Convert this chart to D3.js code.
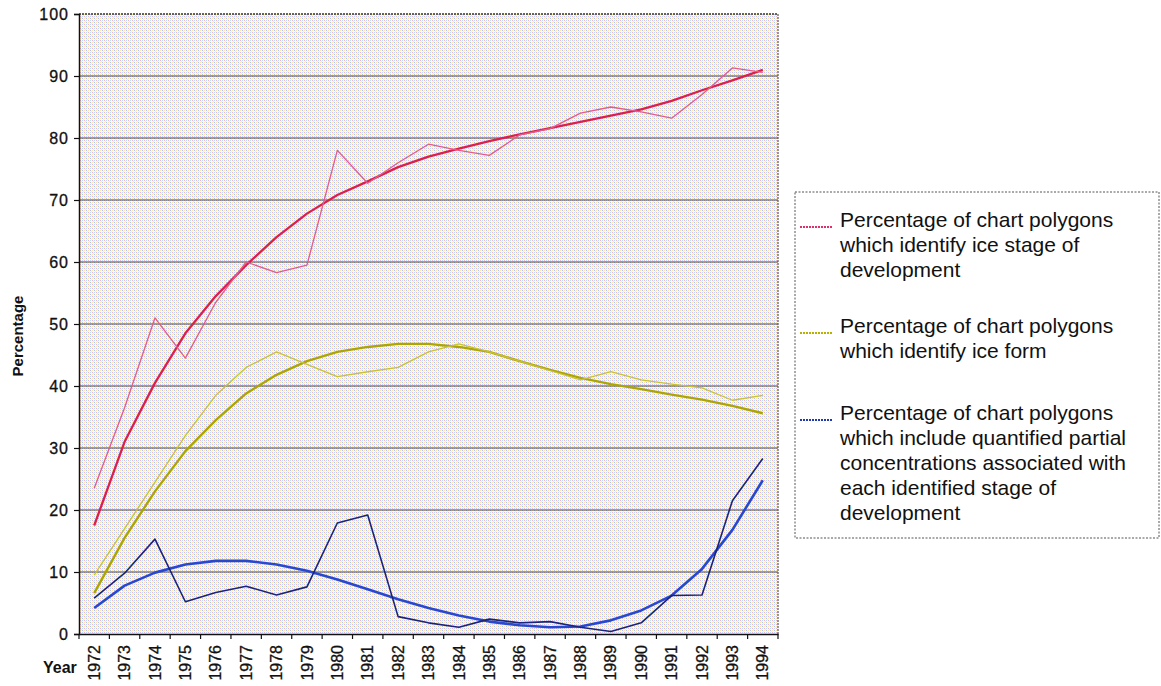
<!DOCTYPE html>
<html><head><meta charset="utf-8">
<script src="https://cdn.jsdelivr.net/npm/d3@7"></script>
<style>body{margin:0;background:#fff;} svg{display:block;font-family:"Liberation Sans",Arial,sans-serif;}</style>
</head><body><svg id="c" width="1161" height="686"></svg>
<script>
const years = ["1972","1973","1974","1975","1976","1977","1978","1979","1980","1981","1982","1983","1984","1985","1986","1987","1988","1989","1990","1991","1992","1993","1994"];
const yTicks = [0,10,20,30,40,50,60,70,80,90,100];
const stageRaw   = [23.5,36.5,51,44.5,53.5,60,58.3,59.5,78,72.7,76,79,78,77.2,80.5,81.5,84,85,84.2,83.2,87,91.3,90.6];
const stageTrend = [17.5,31,40.5,48.5,54.5,59.5,64,67.8,70.8,73,75.3,77,78.3,79.5,80.6,81.6,82.6,83.6,84.6,86,87.7,89.3,91];
const formRaw    = [9.5,17,24.5,32,38.5,43,45.5,43.5,41.5,42.3,43,45.5,46.8,45.5,44,42.5,41,42.3,41,40.3,39.7,37.7,38.5];
const formTrend  = [6.6,15.5,23,29.5,34.5,38.8,41.8,44,45.5,46.3,46.8,46.8,46.3,45.5,44,42.6,41.3,40.3,39.5,38.6,37.8,36.8,35.6];
const concRaw    = [5.8,9.8,15.3,5.2,6.7,7.7,6.3,7.6,17.9,19.2,2.8,1.8,1.1,2.4,1.8,2,1.1,0.4,1.8,6.2,6.3,21.5,28.3];
const concTrend  = [4.2,7.8,9.9,11.2,11.8,11.8,11.2,10.2,8.8,7.2,5.6,4.2,3,2,1.4,1.1,1.2,2.2,3.8,6.2,10.5,16.8,24.8];
const legendItems = [
  {lines:["Percentage of chart polygons","which identify ice stage of","development"], color:"#e0306a"},
  {lines:["Percentage of chart polygons","which identify ice form"], color:"#b8b000"},
  {lines:["Percentage of chart polygons","which include quantified partial","concentrations associated with","each identified stage of","development"], color:"#2038b0"}
];

const svg = d3.select('#c');
const L=79, T=14, R=778, B=634;
const x = d3.scaleBand().domain(years).range([L,R]);
const y = d3.scaleLinear().domain([0,100]).range([B,T]);
const cx = d => x(d) + x.bandwidth()/2;

// halftone-like background
const defs = svg.append('defs');
const pat = defs.append('pattern').attr('id','ht').attr('width',4).attr('height',4).attr('patternUnits','userSpaceOnUse');
pat.append('rect').attr('width',4).attr('height',4).attr('fill','#fbf9fc');
[[0,0,'#eab2e2'],[2,0,'#b6def2'],[0,2,'#f2ea9c'],[2,2,'#bcbade'],[1,1,'#f8dcef'],[3,3,'#dcf0f8']].forEach(([a,b,c])=>{
  pat.append('rect').attr('x',a).attr('y',b).attr('width',1).attr('height',1).attr('fill',c);
});
svg.append('rect').attr('x',L).attr('y',T).attr('width',R-L).attr('height',B-T).attr('fill','url(#ht)');

// gridlines
svg.append('g').selectAll('line').data(yTicks.filter(v=>v>0&&v<100)).join('line')
  .attr('x1',L).attr('x2',R).attr('y1',d=>y(d)).attr('y2',d=>y(d))
  .attr('stroke','#2a2a2a').attr('stroke-width',1.1).attr('stroke-opacity',0.85);
// top & right borders dotted
svg.append('line').attr('x1',L).attr('x2',R).attr('y1',y(100)).attr('y2',y(100))
  .attr('stroke','#333').attr('stroke-width',1.5).attr('stroke-dasharray','2,1');
svg.append('line').attr('x1',R).attr('x2',R).attr('y1',T).attr('y2',B)
  .attr('stroke','#555').attr('stroke-width',1.2).attr('stroke-dasharray','2,1');

// y axis
const ya = svg.append('g').attr('transform',`translate(${L},0)`)
  .call(d3.axisLeft(y).tickValues(yTicks).tickSize(5).tickPadding(5));
ya.select('.domain').attr('stroke','#111').attr('stroke-width',1.5);
ya.selectAll('.tick line').attr('stroke','#111').attr('stroke-width',1.2);
ya.selectAll('.tick text').attr('font-size',16).attr('fill','#111').attr('letter-spacing','1px')
  .attr('stroke','#111').attr('stroke-width',0.3)
  .attr('font-family','"Liberation Sans",Arial,sans-serif');

// x axis
const xa = svg.append('g').attr('transform',`translate(0,${B})`)
  .call(d3.axisBottom(x).tickSize(0).tickPadding(0));
xa.select('.domain').attr('stroke','#111').attr('stroke-width',1.5);
xa.selectAll('.tick text').attr('font-size',16).attr('fill','#111')
  .attr('stroke','#111').attr('stroke-width',0.3)
  .attr('font-family','"Liberation Sans",Arial,sans-serif')
  .attr('text-anchor','end').attr('transform','rotate(-90)')
  .attr('x',-11).attr('y',0).attr('dy','0.35em');
svg.append('g').selectAll('line').data(years.concat(['end'])).join('line')
  .attr('x1',d=>d==='end'?R:x(d)).attr('x2',d=>d==='end'?R:x(d))
  .attr('y1',B).attr('y2',B+5).attr('stroke','#111').attr('stroke-width',1.2);

// axis titles
svg.append('text').attr('x',43).attr('y',673).attr('font-size',16).attr('font-weight','bold').attr('fill','#111').text('Year');
svg.append('text').attr('transform','translate(23,336) rotate(-90)').attr('text-anchor','middle')
  .attr('font-size',15).attr('font-weight','bold').attr('fill','#111').text('Percentage');

// lines
const line = d3.line().x((d,i)=>cx(years[i])).y(d=>y(d));
const series = [
  {data:concTrend, color:'#2848d0', w:2.6},
  {data:concRaw, color:'#1c2478', w:1.6},
  {data:formTrend, color:'#aea600', w:2.4},
  {data:formRaw, color:'#c9c232', w:1.3},
  {data:stageTrend, color:'#dc1f4c', w:2.3},
  {data:stageRaw, color:'#e45a8a', w:1.3}
];
svg.append('g').selectAll('path').data(series).join('path')
  .attr('d',d=>line(d.data)).attr('fill','none')
  .attr('stroke',d=>d.color).attr('stroke-width',d=>d.w).attr('stroke-linejoin','round');

// legend
const lg = svg.append('g');
lg.append('rect').attr('x',795).attr('y',192).attr('width',364).attr('height',346)
  .attr('fill','#fff').attr('stroke','#555').attr('stroke-width',1).attr('stroke-dasharray','2,1.5');
const starts = [220,326,413];
legendItems.forEach((it,k)=>{
  const y0 = starts[k];
  lg.append('line').attr('x1',800).attr('x2',833).attr('y1',y0+7).attr('y2',y0+7)
    .attr('stroke',it.color).attr('stroke-width',2).attr('stroke-dasharray','2,1');
  it.lines.forEach((t,j)=>{
    lg.append('text').attr('x',840).attr('y',y0+j*25).attr('dy','0.35em')
      .attr('font-size',21).attr('fill','#111').text(t);
  });
});
</script></body></html>
